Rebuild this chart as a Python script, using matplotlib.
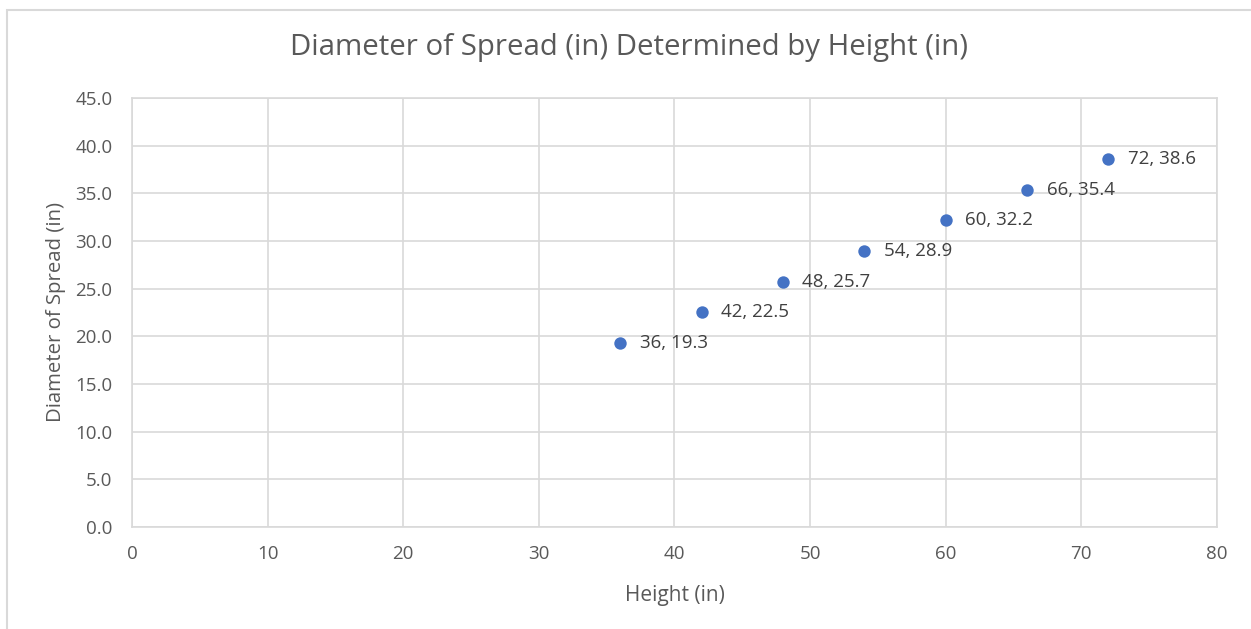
import matplotlib.pyplot as plt
from matplotlib.patches import Rectangle

# height (in) vs diameter of spread (in)
height = [36, 42, 48, 54, 60, 66, 72]
spread = [19.3, 22.5, 25.7, 28.9, 32.2, 35.4, 38.6]

x_ticks = [0, 10, 20, 30, 40, 50, 60, 70, 80]
y_ticks = [0, 5, 10, 15, 20, 25, 30, 35, 40, 45]

text_col = "#595959"
grid_col = "#d9d9d9"
plt.rcParams['font.family'] = ['Open Sans', 'DejaVu Sans']

fig = plt.figure(figsize=(12.51, 6.29), dpi=100)
ax = fig.add_axes([0.1055, 0.1622, 0.8673, 0.682])

# chart border (only left/top edges fall inside the image)
fig.patches.append(Rectangle((7 / 1251, -0.05), 1.1, 1 - 10 / 629 + 0.05,
                             transform=fig.transFigure, fill=False,
                             edgecolor="#d9d9d9", linewidth=1.5))

ax.scatter(height, spread, s=80, color="#4472C4", zorder=3, linewidths=0)
for h, d in zip(height, spread):
    ax.annotate(f"{h}, {d}", (h, d), xytext=(14, 0), textcoords="offset points",
                va="center", ha="left", fontsize=13.5, color="#404040")

ax.set_xlim(0, 80)
ax.set_ylim(0, 45)
ax.set_xticks(x_ticks)
ax.set_yticks(y_ticks)
ax.set_yticklabels([f"{v:.1f}" for v in y_ticks])
ax.grid(True, color=grid_col, linewidth=1.2)
ax.set_axisbelow(True)
for s in ax.spines.values():
    s.set_color(grid_col)
    s.set_linewidth(1.2)
ax.tick_params(axis="y", length=0, labelsize=13.5, colors=text_col, pad=14)
ax.tick_params(axis="x", length=0, labelsize=13.5, colors=text_col, pad=13)

# title is centred over the whole chart, not the plot area
fig.text(629 / 1251, 1 - 48 / 629, "Diameter of Spread (in) Determined by Height (in)",
         fontsize=21.2, color=text_col, ha="center", va="center")
ax.set_xlabel("Height (in)", fontsize=15, color=text_col, labelpad=16)
ax.set_ylabel("Diameter of Spread (in)", fontsize=14.7, color=text_col, labelpad=7)

fig.savefig("out.png", dpi=100)
